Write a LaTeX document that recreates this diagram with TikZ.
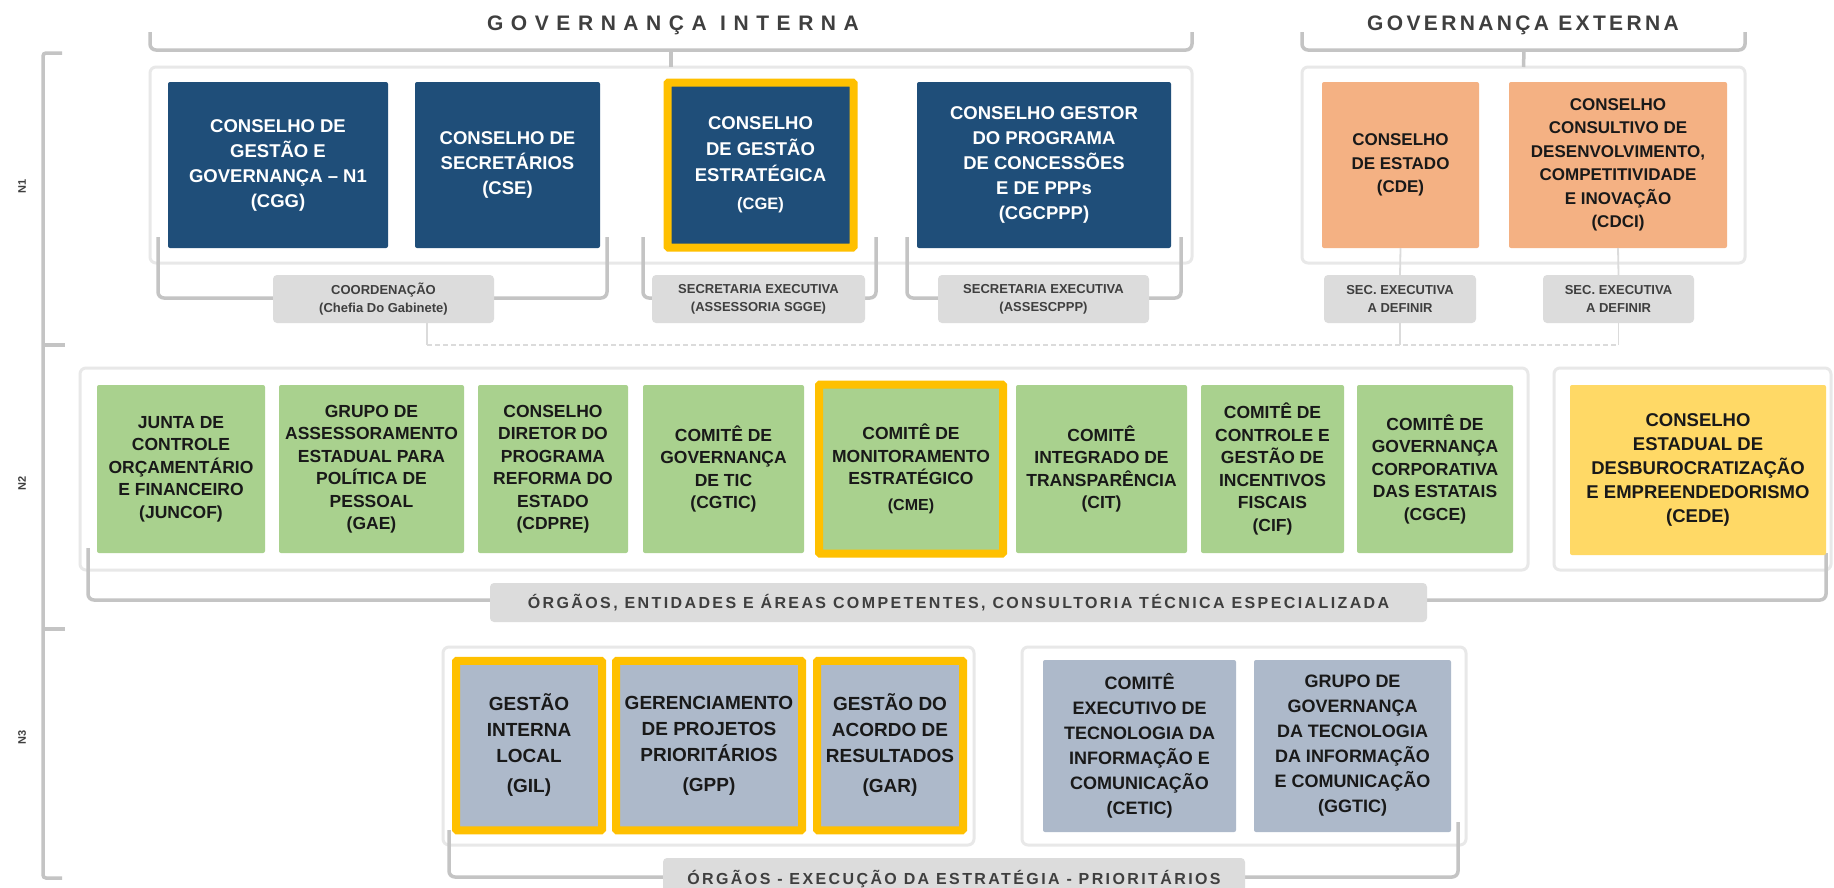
\documentclass[tikz,border=0pt]{standalone}
\usepackage{fontspec}
\setmainfont{Liberation Sans}
\usetikzlibrary{positioning}

\definecolor{govblue}{HTML}{1F4E79}
\definecolor{govorange}{HTML}{F4B183}
\definecolor{govgreen}{HTML}{A9D18E}
\definecolor{govyellow}{HTML}{FFD966}
\definecolor{govslate}{HTML}{ADB9CA}
\definecolor{govgold}{HTML}{FFC000}
\definecolor{govline}{HTML}{C4C4C4}
\definecolor{govlabel}{HTML}{DCDCDC}
\definecolor{govtext}{HTML}{3F3F3F}

\begin{document}
\begin{tikzpicture}[x=1pt, y=-1pt]
	\tikzset{
		box/.style={rectangle, rounded corners=2pt, outer sep=0pt, inner sep=2pt, align=center, text=black!90, font=\bfseries\fontsize{17.5}{22.5}\selectfont},
		bluebox/.style={box, fill=govblue, text=white, minimum height=166pt, font=\bfseries\fontsize{18.5}{25}\selectfont},
		orangebox/.style={box, fill=govorange, minimum height=166pt, font=\bfseries\fontsize{17}{23.5}\selectfont},
		greenbox/.style={box, fill=govgreen, minimum height=168pt},
		slatebox/.style={box, fill=govslate, minimum height=172pt, font=\bfseries\fontsize{18}{25}\selectfont},
		keybox/.style={draw=govgold, line width=8pt, rounded corners=1pt},
		frame/.style={rectangle, draw=black!9, line width=3pt, rounded corners=6pt, fill=white, outer sep=0pt},
		brace/.style={draw=govline, line width=3.5pt, rounded corners=6pt},
		link/.style={draw=black!14, line width=1.8pt},
		tag/.style={rectangle, rounded corners=4pt, fill=govlabel, outer sep=0pt, align=center, text=govtext, minimum height=48pt, font=\bfseries\fontsize{13}{18}\selectfont},
		bar/.style={rectangle, rounded corners=4pt, fill=govlabel, outer sep=0pt, text=govtext, font=\bfseries\fontsize{16}{18}\selectfont\addfontfeatures{LetterSpace=15}},
		title/.style={text=govtext, font=\bfseries\fontsize{21}{24}\selectfont\addfontfeatures{LetterSpace=36}},
		level/.style={rotate=90, text=govtext, font=\bfseries\fontsize{11}{12}\selectfont}
	}

	\fill[white] (0,0) rectangle (1834,887);
	\useasboundingbox (0,0) rectangle (1834,887);

	% frames
	\node[frame, minimum width=1042pt, minimum height=196pt] (intframe) at (671,165) {};
	\node[frame, minimum width=443pt, minimum height=196pt] (extframe) at (1523.5,165) {};
	\node[frame, minimum width=1448pt, minimum height=202pt] (n2frame) at (804,469) {};
	\node[frame, minimum width=277pt, minimum height=202pt] (cedeframe) at (1692.5,469) {};
	\node[frame, minimum width=531pt, minimum height=198pt] (keyframe) at (708.5,746) {};
	\node[frame, minimum width=444pt, minimum height=198pt] (ticframe) at (1244,746) {};

	% titles and braces
	\node[title] (gi) at (673,25) {GOVERNANÇA INTERNA};
	\node[title, font=\bfseries\fontsize{21}{24}\selectfont\addfontfeatures{LetterSpace=16}] (ge) at (1523,25) {GOVERNANÇA EXTERNA};
	\coordinate (gitip) at (671,50);
	\coordinate (getip) at (1524,50);
	\draw[brace] (150,32) -- (150,50) -- (1192,50) -- (1192,32);
	\draw[brace] (1302,32) -- (1302,50) -- (1745,50) -- (1745,32);
	\draw[brace] (gitip) -- (intframe.north);
	\draw[brace] (getip) -- (extframe.north);

	% level axis
	\draw[brace, rounded corners=3pt] (62,53) -- (43,53) -- (43,878) -- (62,878);
	\draw[brace] (43,345) -- (65,345);
	\draw[brace] (43,629) -- (65,629);
	\node[level] (n1) at (22,186) {N1};
	\node[level] (n2) at (22,483) {N2};
	\node[level] (n3) at (22,737) {N3};

	% brackets
	\draw[brace] (158,237) -- (158,298) -- (607,298) -- (607,237);
	\draw[brace] (643,237) -- (643,298) -- (876,298) -- (876,237);
	\draw[brace] (907,237) -- (907,298) -- (1181,298) -- (1181,237);
	\draw[brace] (88,548) -- (88,600) -- (1826,600) -- (1826,553);
	\draw[brace] (449,830) -- (449,877) -- (1458,877) -- (1458,822);

	% N1
	\node[bluebox, minimum width=220pt] (cgg) at (278,165) {CONSELHO DE\\GESTÃO E\\GOVERNANÇA – N1\\(CGG)};
	\node[bluebox, minimum width=185pt] (cse) [right=27pt of cgg] {CONSELHO DE\\SECRETÁRIOS\\(CSE)};
	\node[bluebox, keybox, minimum width=186pt, minimum height=165pt, font=\bfseries\fontsize{18.5}{26}\selectfont] (cge) [right=67.5pt of cse] {CONSELHO\\DE GESTÃO\\ESTRATÉGICA\\[2pt]{\fontsize{16.5}{20}\selectfont(CGE)}};
	\node[bluebox, minimum width=254pt] (cgcppp) [right=63.5pt of cge] {CONSELHO GESTOR\\DO PROGRAMA\\DE CONCESSÕES\\E DE PPPs\\(CGCPPP)};
	\node[orangebox, minimum width=157pt] (cex) at (1400.5,165) {CONSELHO\\DE ESTADO\\(CDE)};
	\node[orangebox, minimum width=218pt] (cdci) [right=30pt of cex] {CONSELHO\\CONSULTIVO DE\\DESENVOLVIMENTO,\\COMPETITIVIDADE\\E INOVAÇÃO\\(CDCI)};

	\node[tag, minimum width=221pt] (coord) at (383.5,299) {COORDENAÇÃO\\(Chefia Do Gabinete)};
	\node[tag, minimum width=213pt] (sec1) at (758.5,299) {SECRETARIA EXECUTIVA\\(ASSESSORIA SGGE)};
	\node[tag, minimum width=211pt] (sec2) at (1043.5,299) {SECRETARIA EXECUTIVA\\(ASSESCPPP)};
	\node[tag, minimum width=152pt] (sec3) at (1400,299) {SEC. EXECUTIVA\\A DEFINIR};
	\node[tag, minimum width=151pt] (sec4) at (1618.5,299) {SEC. EXECUTIVA\\A DEFINIR};

	\coordinate (hubL) at (427,345);
	\coordinate (hubR) at (1618.5,345);
	\draw[link, dash pattern=on 5pt off 3pt] (hubL) -- (hubR);
	\draw[link] (coord.south -| hubL) -- (hubL);
	\draw[link] (sec3.south) -- (sec3.south |- hubL);
	\draw[link] (sec4.south) -- (hubR);
	\draw[link] (cex.south) -- (sec3.north);
	\draw[link] (cdci.south) -- (sec4.north);

	% N2
	\node[greenbox, minimum width=168pt] (juncof) at (181,469) {JUNTA DE\\CONTROLE\\ORÇAMENTÁRIO\\E FINANCEIRO\\(JUNCOF)};
	\node[greenbox, minimum width=185pt] (gae) [right=14pt of juncof] {GRUPO DE\\ASSESSORAMENTO\\ESTADUAL PARA\\POLÍTICA DE\\PESSOAL\\(GAE)};
	\node[greenbox, minimum width=150pt] (cdpre) [right=14pt of gae] {CONSELHO\\DIRETOR DO\\PROGRAMA\\REFORMA DO\\ESTADO\\(CDPRE)};
	\node[greenbox, minimum width=161pt] (cgtic) [right=15pt of cdpre] {COMITÊ DE\\GOVERNANÇA\\DE TIC\\(CGTIC)};
	\node[greenbox, keybox, minimum width=184pt, minimum height=169pt] (cme) [right=15pt of cgtic] {COMITÊ DE\\MONITORAMENTO\\ESTRATÉGICO\\[3pt]{\fontsize{16}{20}\selectfont(CME)}};
	\node[greenbox, minimum width=171pt] (cit) [right=13pt of cme] {COMITÊ\\INTEGRADO DE\\TRANSPARÊNCIA\\(CIT)};
	\node[greenbox, minimum width=143pt] (cif) [right=14pt of cit] {COMITÊ DE\\CONTROLE E\\GESTÃO DE\\INCENTIVOS\\FISCAIS\\(CIF)};
	\node[greenbox, minimum width=156pt] (cgce) [right=13pt of cif] {COMITÊ DE\\GOVERNANÇA\\CORPORATIVA\\DAS ESTATAIS\\(CGCE)};
	\node[box, fill=govyellow, minimum width=256pt, minimum height=170pt, font=\bfseries\fontsize{18.5}{24}\selectfont] (cede) at (1698,470) {CONSELHO\\ESTADUAL DE\\DESBUROCRATIZAÇÃO\\E EMPREENDEDORISMO\\(CEDE)};

	\node[bar, minimum width=937pt, minimum height=39pt] (orgs) at (958.5,602.5) {ÓRGÃOS, ENTIDADES E ÁREAS COMPETENTES, CONSULTORIA TÉCNICA ESPECIALIZADA};

	% N3
	\node[slatebox, keybox, minimum width=146pt, minimum height=169.5pt, font=\bfseries\fontsize{19}{26}\selectfont] (gil) at (529,745.5) {GESTÃO\\INTERNA\\LOCAL\\[4pt](GIL)};
	\node[slatebox, keybox, minimum width=186pt, minimum height=169.5pt, font=\bfseries\fontsize{19}{26}\selectfont] (gpp) [right=14pt of gil] {GERENCIAMENTO\\DE PROJETOS\\PRIORITÁRIOS\\[4pt](GPP)};
	\node[slatebox, keybox, minimum width=146pt, minimum height=169.5pt, font=\bfseries\fontsize{19}{26}\selectfont] (gar) [right=15pt of gpp] {GESTÃO DO\\ACORDO DE\\RESULTADOS\\[4pt](GAR)};
	\node[slatebox, minimum width=193pt] (cetic) at (1139.5,746) {COMITÊ\\EXECUTIVO DE\\TECNOLOGIA DA\\INFORMAÇÃO E\\COMUNICAÇÃO\\(CETIC)};
	\node[slatebox, minimum width=197pt] (ggtic) [right=18pt of cetic] {GRUPO DE\\GOVERNANÇA\\DA TECNOLOGIA\\DA INFORMAÇÃO\\E COMUNICAÇÃO\\(GGTIC)};

	\node[bar, minimum width=582pt, minimum height=42pt] (exec) at (954,879) {ÓRGÃOS - EXECUÇÃO DA ESTRATÉGIA - PRIORITÁRIOS};

\end{tikzpicture}
\end{document}
